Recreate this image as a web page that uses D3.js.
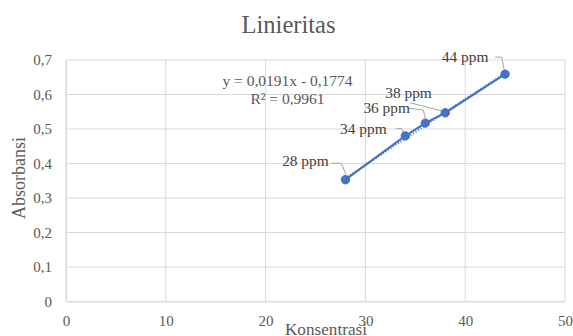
<!DOCTYPE html>
<html><head><meta charset="utf-8">
<script src="https://cdn.jsdelivr.net/npm/d3@7"></script>
<style>body{margin:0;background:#fff}svg{display:block}</style>
</head><body>
<svg id="c" width="573" height="336"></svg>
<script>
const concentrations = [28, 34, 36, 38, 44];
const absorbances = [0.353, 0.480, 0.517, 0.547, 0.659];
const pointLabels = ["28 ppm", "34 ppm", "36 ppm", "38 ppm", "44 ppm"];
const xTicks = [0, 10, 20, 30, 40, 50];
const yTicks = [0, 0.1, 0.2, 0.3, 0.4, 0.5, 0.6, 0.7];
const slope = 0.0191, intercept = -0.1774;
const eqLines = ["y = 0,0191x - 0,1774", "R² = 0,9961"];

const FONT = "Liberation Serif";
const svg = d3.select("#c");
const m = {l: 66, r: 565, t: 60, b: 301.5};
const x = d3.scaleLinear().domain([0, 50]).range([m.l, m.r]);
const y = d3.scaleLinear().domain([0, 0.7]).range([m.b, m.t]);
const fmt = d => d === 0 ? "0" : d3.format(".1f")(d).replace(".", ",");

// gridlines
svg.append("g").selectAll("line").data(yTicks).join("line")
  .attr("x1", m.l).attr("x2", m.r).attr("y1", d => y(d)).attr("y2", d => y(d))
  .attr("stroke", "#d9d9d9").attr("stroke-width", 1);
svg.append("g").selectAll("line").data(xTicks).join("line")
  .attr("y1", m.t).attr("y2", m.b).attr("x1", d => x(d)).attr("x2", d => x(d))
  .attr("stroke", "#d9d9d9").attr("stroke-width", 1);

// axes
const xa = svg.append("g").attr("transform", `translate(0,${m.b})`)
  .call(d3.axisBottom(x).tickValues(xTicks).tickSize(0).tickPadding(14).tickFormat(d => d));
const ya = svg.append("g").attr("transform", `translate(${m.l},0)`)
  .call(d3.axisLeft(y).tickValues(yTicks).tickSize(0).tickPadding(14).tickFormat(fmt));
[xa, ya].forEach(a => {
  a.attr("font-family", null).attr("font-size", null);
  a.select(".domain").attr("stroke", "#d9d9d9");
  a.selectAll("text").attr("fill", "#595959").attr("font-family", FONT).attr("font-size", 15);
});

// title & axis titles
svg.append("text").attr("x", 288.5).attr("y", 33).attr("text-anchor", "middle")
  .attr("font-family", FONT).attr("font-size", 24.5).attr("fill", "#595959").text("Linieritas");
svg.append("text").attr("transform", "translate(25,178) rotate(-90)").attr("text-anchor", "middle")
  .attr("font-family", FONT).attr("font-size", 18).attr("fill", "#595959").text("Absorbansi");
svg.append("text").attr("x", 326).attr("y", 335).attr("text-anchor", "middle")
  .attr("font-family", FONT).attr("font-size", 17.2).attr("fill", "#595959").text("Konsentrasi");

// trendline (dotted)
const xr = d3.extent(concentrations);
svg.append("line").attr("x1", x(xr[0])).attr("x2", x(xr[1]))
  .attr("y1", y(slope * xr[0] + intercept)).attr("y2", y(slope * xr[1] + intercept))
  .attr("stroke", "#4472c4").attr("stroke-width", 2).attr("stroke-dasharray", "1,2");

// series line
const pts = concentrations.map((c, i) => ({c, a: absorbances[i], lab: pointLabels[i]}));
svg.append("path").datum(pts)
  .attr("d", d3.line().x(d => x(d.c)).y(d => y(d.a)))
  .attr("fill", "none").attr("stroke", "#4472c4").attr("stroke-width", 2.2);

// leader lines and labels (offsets relative to point)
const labelOff = [
  {tx: -40, ty: -13.5, path: [[-14, -16.5], [-4, -16.5], [0.5, -5]]},
  {tx: -42, ty: -2, path: [[-9, -7.5], [-4, -7.5], [-2, -3]]},
  {tx: -38.6, ty: -9.8, path: [[-17, -15], [-2, -13], [0, -5]]},
  {tx: -36.7, ty: -15, path: [[-35, -10], [-4, -2]]},
  {tx: -40, ty: -12, path: [[-10, -17], [-3.4, -17], [-1, -4.5]]}
];
pts.forEach((p, i) => {
  const px = x(p.c), py = y(p.a), o = labelOff[i];
  svg.append("polyline").attr("points", o.path.map(q => [px + q[0], py + q[1]].join(",")).join(" "))
    .attr("fill", "none").attr("stroke", "#a6a6a6").attr("stroke-width", 1);
  svg.append("text").attr("x", px + o.tx).attr("y", py + o.ty).attr("text-anchor", "middle")
    .attr("font-family", FONT).attr("font-size", 15.4).attr("fill", "#404040").text(p.lab);
});

svg.append("g").selectAll("circle").data(pts).join("circle")
  .attr("cx", d => x(d.c)).attr("cy", d => y(d.a)).attr("r", 4.2)
  .attr("fill", "#4472c4").attr("stroke", "#4472c4");

// equation
svg.append("g").selectAll("text").data(eqLines).join("text")
  .attr("x", 287.5).attr("y", (d, i) => 86 + i * 18).attr("text-anchor", "middle")
  .attr("font-family", FONT).attr("font-size", 15.5).attr("fill", "#595959").text(d => d);
</script>
</body></html>
